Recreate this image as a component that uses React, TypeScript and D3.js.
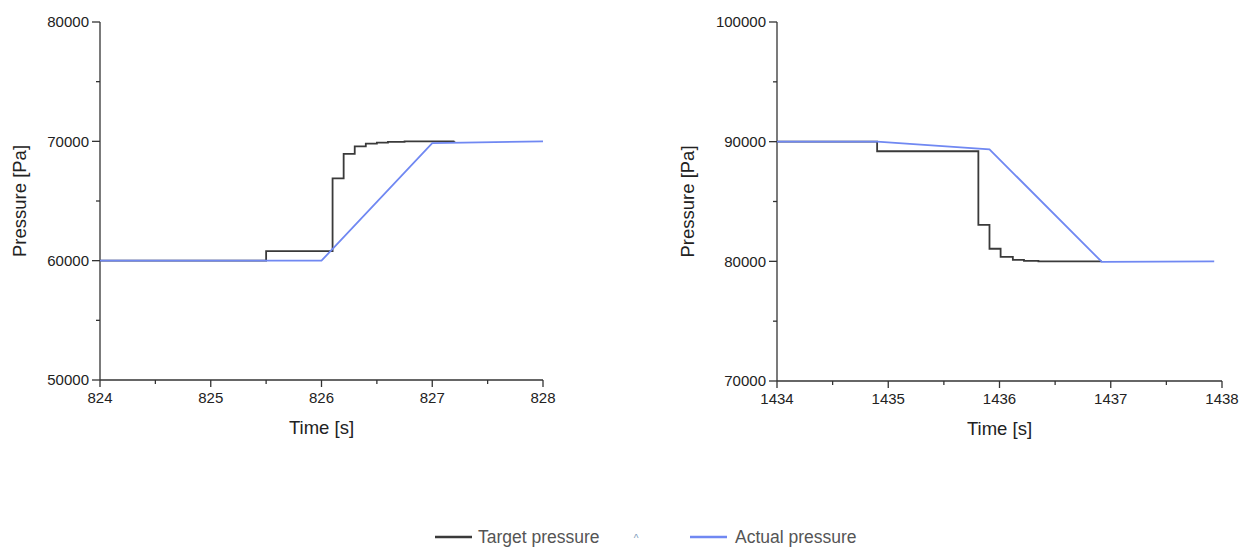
import React from "react";
import * as d3 from "d3";

// Left panel data
const leftTargetT = [824, 825.5, 826.1, 826.2, 826.3, 826.4, 826.5, 826.6, 826.75, 827.2];
const leftTargetP = [60000, 60800, 66900, 68950, 69580, 69800, 69900, 69950, 69990, 70000];
const leftActualT = [824, 826.0, 827.0, 828];
const leftActualP = [60000, 60000, 69850, 70000];
const leftXTicks = [824, 825, 826, 827, 828];
const leftYTicks = [50000, 60000, 70000, 80000];

// Right panel data
const rightTargetT = [1434, 1434.9, 1435.81, 1435.91, 1436.01, 1436.12, 1436.22, 1436.35, 1436.92];
const rightTargetP = [90000, 89200, 83050, 81050, 80370, 80120, 80040, 80000, 80000];
const rightActualT = [1434, 1434.9, 1435.91, 1436.92, 1437.93];
const rightActualP = [90000, 90000, 89360, 79950, 80000];
const rightXTicks = [1434, 1435, 1436, 1437, 1438];
const rightYTicks = [70000, 80000, 90000, 100000];

const FONT = "'Liberation Sans', Arial, Helvetica, sans-serif";
const TARGET_COLOR = "#3a3a3a";
const ACTUAL_COLOR = "#7088f2";
const AXIS_COLOR = "#333";

type PanelProps = {
  x0: number; x1: number; y0: number; y1: number;
  xTicks: number[]; yTicks: number[];
  tT: number[]; tP: number[]; aT: number[]; aP: number[];
  yTitleX: number;
};

function Panel(p: PanelProps) {
  const xs = d3.scaleLinear().domain([p.xTicks[0], p.xTicks[p.xTicks.length - 1]]).range([p.x0, p.x1]);
  const ys = d3.scaleLinear().domain([p.yTicks[0], p.yTicks[p.yTicks.length - 1]]).range([p.y0, p.y1]);
  const xMinor: number[] = [];
  for (let i = 0; i < p.xTicks.length - 1; i++) xMinor.push((p.xTicks[i] + p.xTicks[i + 1]) / 2);
  const yMinor: number[] = [];
  for (let i = 0; i < p.yTicks.length - 1; i++) yMinor.push((p.yTicks[i] + p.yTicks[i + 1]) / 2);

  const target = p.tT.map((t, i) => [t, p.tP[i]] as [number, number]);
  const actual = p.aT.map((t, i) => [t, p.aP[i]] as [number, number]);
  const stepLine = d3.line<[number, number]>().x(d => xs(d[0])).y(d => ys(d[1])).curve(d3.curveStepAfter);
  const line = d3.line<[number, number]>().x(d => xs(d[0])).y(d => ys(d[1]));

  return (
    <g>
      <line x1={p.x0} x2={p.x0} y1={p.y0} y2={p.y1} stroke={AXIS_COLOR} strokeWidth={1.3} />
      <line x1={p.x0} x2={p.x1} y1={p.y0} y2={p.y0} stroke={AXIS_COLOR} strokeWidth={1.3} />
      {p.yTicks.map(v => (
        <g key={"y" + v}>
          <line x1={p.x0 - 8} x2={p.x0} y1={ys(v)} y2={ys(v)} stroke={AXIS_COLOR} strokeWidth={1.3} />
          <text x={p.x0 - 11} y={ys(v)} dy="0.35em" textAnchor="end" fontSize={15} fill="#222" fontFamily={FONT}>{v}</text>
        </g>
      ))}
      {yMinor.map(v => (
        <line key={"ym" + v} x1={p.x0 - 4} x2={p.x0} y1={ys(v)} y2={ys(v)} stroke={AXIS_COLOR} strokeWidth={1.3} />
      ))}
      {p.xTicks.map(v => (
        <g key={"x" + v}>
          <line x1={xs(v)} x2={xs(v)} y1={p.y0} y2={p.y0 + 7} stroke={AXIS_COLOR} strokeWidth={1.3} />
          <text x={xs(v)} y={p.y0 + 23} textAnchor="middle" fontSize={15} fill="#222" fontFamily={FONT}>{v}</text>
        </g>
      ))}
      {xMinor.map(v => (
        <line key={"xm" + v} x1={xs(v)} x2={xs(v)} y1={p.y0} y2={p.y0 + 4} stroke={AXIS_COLOR} strokeWidth={1.3} />
      ))}
      <text x={(p.x0 + p.x1) / 2} y={p.y0 + 54} textAnchor="middle" fontSize={18.5} fill="#222" fontFamily={FONT}>Time [s]</text>
      <text transform={`translate(${p.yTitleX},${(p.y0 + p.y1) / 2}) rotate(-90)`} textAnchor="middle" fontSize={18.5} fill="#222" fontFamily={FONT}>Pressure [Pa]</text>
      <path d={stepLine(target) || ""} fill="none" stroke={TARGET_COLOR} strokeWidth={1.8} />
      <path d={line(actual) || ""} fill="none" stroke={ACTUAL_COLOR} strokeWidth={1.8} />
    </g>
  );
}

export default function App() {
  return (
    <svg width={1258} height={547} style={{ position: "absolute", left: 0, top: 0, background: "#fff" }}>
      <rect width={1258} height={547} fill="#fff" />
      <Panel x0={100} x1={543} y0={380} y1={22} xTicks={leftXTicks} yTicks={leftYTicks}
        tT={leftTargetT} tP={leftTargetP} aT={leftActualT} aP={leftActualP} yTitleX={26} />
      <Panel x0={777} x1={1222} y0={381} y1={22} xTicks={rightXTicks} yTicks={rightYTicks}
        tT={rightTargetT} tP={rightTargetP} aT={rightActualT} aP={rightActualP} yTitleX={694} />
      <line x1={435} x2={472} y1={537} y2={537} stroke={TARGET_COLOR} strokeWidth={2.5} />
      <text x={478} y={537} dy="0.35em" fontSize={17.5} fill="#555" fontFamily={FONT}>Target pressure</text>
      <text x={636} y={542} textAnchor="middle" fontSize={10} fill="#7a9ab8" fontFamily={FONT}>^</text>
      <line x1={690} x2={727} y1={537} y2={537} stroke={ACTUAL_COLOR} strokeWidth={2.5} />
      <text x={735} y={537} dy="0.35em" fontSize={17.5} fill="#555" fontFamily={FONT}>Actual pressure</text>
    </svg>
  );
}
